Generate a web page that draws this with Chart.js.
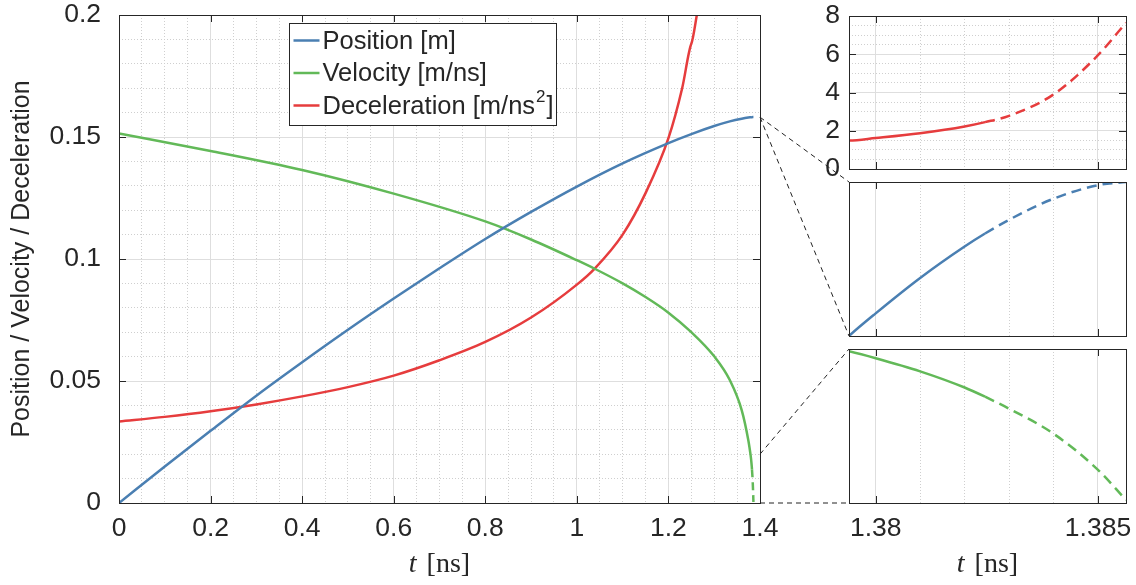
<!DOCTYPE html>
<html>
<head>
<meta charset="utf-8">
<script src="https://cdn.jsdelivr.net/npm/chart.js@4.4.1/dist/chart.umd.min.js"></script>
<style>
  body { margin: 0; background: #fff; }
  #wrap { position: relative; width: 1136px; height: 585px; }
  #wrap canvas { position: absolute; left: 0; top: 0; }
</style>
</head>
<body>
<div id="wrap">
  <canvas id="main" width="1136" height="585"></canvas>
  <canvas id="zoomDec" width="1136" height="585"></canvas>
  <canvas id="zoomPos" width="1136" height="585"></canvas>
  <canvas id="zoomVel" width="1136" height="585"></canvas>
</div>
<script>
// ---- data: time [ns] and value for each quantity
var posT = [0, 0.1, 0.2, 0.3, 0.4, 0.5, 0.6, 0.7, 0.8, 0.9, 1.0, 1.1, 1.2, 1.25, 1.3, 1.334, 1.36, 1.3744,
            1.3794, 1.38, 1.381, 1.382, 1.38246, 1.383, 1.384, 1.385, 1.38563];
var posY = [0, 0.0150, 0.0296, 0.0440, 0.0577, 0.0710, 0.0838, 0.0962, 0.1082, 0.1193, 0.1297, 0.1392, 0.1475, 0.1512, 0.1545, 0.1564, 0.1575, 0.15797,
            0.1580800, 0.1580915, 0.1581095, 0.1581255, 0.1581321, 0.1581391, 0.1581498, 0.1581567, 0.1581583];

var velT = [0, 0.2, 0.4, 0.6, 0.8, 0.9, 1.0, 1.04, 1.1, 1.15, 1.2, 1.25, 1.3, 1.334, 1.36, 1.3744,
            1.3794, 1.38, 1.381, 1.382, 1.38246, 1.383, 1.384, 1.385, 1.38563];
var velY = [0.1514, 0.1443, 0.1365, 0.1268, 0.1154, 0.1080, 0.0995, 0.0959, 0.0900, 0.0844, 0.0780, 0.0700, 0.0601, 0.0504, 0.0381, 0.0258,
            0.0197, 0.0188, 0.0171, 0.0150, 0.0138, 0.01225, 0.0090, 0.0043, 0.0004];

var decT = [0, 0.1, 0.2, 0.3, 0.4, 0.5, 0.6, 0.7, 0.8, 0.9, 1.0, 1.04, 1.1, 1.15, 1.2, 1.23, 1.25, 1.265,
            1.3794, 1.38, 1.381, 1.382, 1.38246, 1.383, 1.384, 1.385, 1.38563];
var decY = [0.0334, 0.0353, 0.0376, 0.0404, 0.0437, 0.0475, 0.0522, 0.0585, 0.0660, 0.0760, 0.0895, 0.0963, 0.1100, 0.1270, 0.1495, 0.1700, 0.1882, 0.2030,
            1.49, 1.62, 1.87, 2.22, 2.45, 2.78, 3.90, 5.95, 7.65];

var seriesNames = ['Position [m]', 'Velocity [m/ns]', 'Deceleration [m/ns\u00B2]'];
var seriesColors = ['#4a7fb2', '#62b958', '#e63c3d'];

var solidUntil = 1.38246;   // past this time the curves are dashed

// ---- axes
var mainXRange = [0, 1.4];
var mainYRange = [0, 0.2];
var mainXTicks = [0, 0.2, 0.4, 0.6, 0.8, 1, 1.2, 1.4];
var mainYTicks = [0, 0.05, 0.1, 0.15, 0.2];

var zoomXRange = [1.3794, 1.38563];
var zoomXTicks = [1.38, 1.385];
var decRange = [0, 8];
var decTicks = [0, 2, 4, 6, 8];
var posRange = [0.15808, 0.1581583];
var velRange = [0, 0.02];

var FONT = '"Liberation Sans", Arial, Helvetica, sans-serif';
var INK = '#262626';
var GRID = '#dedede';
var GRID_MINOR = '#cfcfcf';
var TICK_SIZE = 26.5;

Chart.defaults.font.family = FONT;
Chart.defaults.color = INK;

function fmt(v) { return String(+v.toFixed(4)); }

// minor grid positions between the labelled ticks
function minorSteps(lo, hi, step, skip) {
  var out = [];
  var n = Math.round((hi - lo) / step);
  for (var i = 0; i <= n; i++) {
    var v = +(lo + i * step).toFixed(6);
    if (skip.every(function (s) { return Math.abs(s - v) > 1e-9; })) out.push(v);
  }
  return out;
}

function pts(ts, ys) { return ts.map(function (t, i) { return {x: t, y: ys[i]}; }); }

function series(i, ts, ys, width, dash) {
  return {
    label: seriesNames[i],
    data: pts(ts, ys),
    borderColor: seriesColors[i],
    borderWidth: width,
    pointRadius: 0,
    cubicInterpolationMode: 'monotone',
    segment: {
      borderDash: function (ctx) { return ctx.p0.parsed.x >= solidUntil - 1e-9 ? dash : undefined; }
    }
  };
}

function scaleSet(o) {
  var s = {
    x: {
      type: 'linear', min: o.xr[0], max: o.xr[1],
      afterBuildTicks: function (sc) { sc.ticks = o.xTicks.map(function (v) { return {value: v}; }); },
      afterFit: function (sc) { sc.height = o.xH; sc.paddingLeft = 0; sc.paddingRight = 0; },
      ticks: { display: o.xLabels, autoSkip: false, maxRotation: 0, padding: 10, font: {size: TICK_SIZE}, color: INK,
               callback: function (v) { return fmt(v); } },
      grid: { color: GRID, lineWidth: 1, drawTicks: false },
      border: { display: false }
    },
    xMinor: {
      type: 'linear', position: 'bottom', min: o.xr[0], max: o.xr[1],
      afterBuildTicks: function (sc) { sc.ticks = o.xMinor.map(function (v) { return {value: v}; }); },
      afterFit: function (sc) { sc.height = 0; sc.paddingLeft = 0; sc.paddingRight = 0; },
      ticks: { display: false },
      grid: { color: GRID_MINOR, lineWidth: 1, drawTicks: false },
      border: { display: false, dash: [1, 2] }
    },
    y: {
      type: 'linear', min: o.yr[0], max: o.yr[1],
      afterBuildTicks: function (sc) { sc.ticks = o.yTicks.map(function (v) { return {value: v}; }); },
      afterFit: function (sc) { sc.width = o.yW; sc.paddingTop = 0; sc.paddingBottom = 0; },
      ticks: { display: o.yLabels, autoSkip: false, padding: o.yPad, font: {size: TICK_SIZE}, color: INK,
               callback: function (v) { return fmt(v); } },
      grid: { display: o.yGrid, color: GRID, lineWidth: 1, drawTicks: false },
      border: { display: false },
      title: o.yTitle ? { display: true, text: o.yTitle, font: {size: 25}, color: INK, padding: {top: 7, bottom: 0} } : { display: false }
    }
  };
  if (o.yGrid) {
    s.yMinor = {
      type: 'linear', position: 'left', min: o.yr[0], max: o.yr[1],
      afterBuildTicks: function (sc) { sc.ticks = o.yMinor.map(function (v) { return {value: v}; }); },
      afterFit: function (sc) { sc.width = 0; sc.paddingTop = 0; sc.paddingBottom = 0; },
      ticks: { display: false },
      grid: { color: GRID_MINOR, lineWidth: 1, drawTicks: false },
      border: { display: false, dash: [1, 2] }
    };
  }
  return s;
}

// box round the plot area plus inward tick marks on all four sides
var frame = {
  id: 'frame',
  afterDatasetsDraw: function (chart, args, o) {
    var ctx = chart.ctx, a = chart.chartArea, sx = chart.scales.x, sy = chart.scales.y;
    ctx.save();
    ctx.strokeStyle = INK;
    ctx.lineWidth = 1;
    ctx.beginPath();
    (o.xTicks || []).forEach(function (v) {
      var px = Math.round(sx.getPixelForValue(v)) + 0.5;
      ctx.moveTo(px, a.bottom); ctx.lineTo(px, a.bottom - 7);
      ctx.moveTo(px, a.top); ctx.lineTo(px, a.top + 7);
    });
    (o.yTicks || []).forEach(function (v) {
      var py = Math.round(sy.getPixelForValue(v)) + 0.5;
      ctx.moveTo(a.left, py); ctx.lineTo(a.left + 7, py);
      ctx.moveTo(a.right, py); ctx.lineTo(a.right - 7, py);
    });
    ctx.stroke();
    ctx.strokeRect(Math.round(a.left) + 0.5, Math.round(a.top) + 0.5,
                   Math.round(a.right - a.left), Math.round(a.bottom - a.top));
    ctx.restore();
  }
};

// "t [ns]" under the axis, italic t like the math font
var tTitle = {
  id: 'tTitle',
  afterDraw: function (chart, args, o) {
    if (!o.show) return;
    var ctx = chart.ctx, a = chart.chartArea;
    ctx.save();
    ctx.fillStyle = INK;
    ctx.textBaseline = 'alphabetic';
    var fi = 'italic 28px "Liberation Serif", "DejaVu Serif", serif';
    var fr = '28px "Liberation Serif", "DejaVu Serif", serif';
    ctx.font = fi; var w1 = ctx.measureText('t').width;
    ctx.font = fr; var w2 = ctx.measureText('[ns]').width;
    var gap = 10;
    var x0 = (a.left + a.right) / 2 - (w1 + gap + w2) / 2;
    var y = 572;
    ctx.font = fi; ctx.fillText('t', x0, y);
    ctx.font = fr; ctx.fillText('[ns]', x0 + w1 + gap, y);
    ctx.restore();
  }
};

// legend box inside the main axes; a "²" in a label is set as a raised 2
var keyBox = {
  id: 'keyBox',
  afterDraw: function (chart, args, o) {
    if (!o.show) return;
    var ctx = chart.ctx, a = chart.chartArea;
    var sets = chart.data.datasets;
    var big = '25.5px ' + FONT, small = '17px ' + FONT;
    function parts(label) {
      var i = label.indexOf('\u00B2');
      return i < 0 ? [label, '', ''] : [label.slice(0, i), '2', label.slice(i + 1)];
    }
    function width(label) {
      var p = parts(label);
      ctx.font = big; var w = ctx.measureText(p[0]).width + ctx.measureText(p[2]).width;
      ctx.font = small; return w + ctx.measureText(p[1]).width;
    }
    ctx.save();
    var tw = 0;
    sets.forEach(function (d) { tw = Math.max(tw, width(d.label)); });
    var x = Math.round(a.left + 170) + 0.5, y = Math.round(a.top + 8) + 0.5;
    var rowH = 32.5, bw = Math.round(34 + tw + 4), bh = 102;
    ctx.fillStyle = '#fff';
    ctx.fillRect(x, y, bw, bh);
    ctx.strokeStyle = INK; ctx.lineWidth = 1;
    ctx.strokeRect(x, y, bw, bh);
    ctx.textBaseline = 'middle';
    sets.forEach(function (d, i) {
      var cy = y + 17 + i * rowH;
      ctx.strokeStyle = d.borderColor; ctx.lineWidth = 2.5;
      ctx.beginPath(); ctx.moveTo(x + 4, cy); ctx.lineTo(x + 30, cy); ctx.stroke();
      ctx.fillStyle = INK;
      var p = parts(d.label), tx = x + 33;
      ctx.font = big; ctx.fillText(p[0], tx, cy + 1); tx += ctx.measureText(p[0]).width;
      ctx.font = small; ctx.fillText(p[1], tx + 1, cy - 8); tx += ctx.measureText(p[1]).width + 2;
      ctx.font = big; ctx.fillText(p[2], tx, cy + 1);
    });
    ctx.restore();
  }
};

// dashed leader lines from the main axes to the zoomed panels
var mainChart, posChart;
var zoomLinks = {
  id: 'zoomLinks',
  afterDraw: function (chart) {
    var ctx = chart.ctx;
    var mx = mainChart.scales.x.getPixelForValue(mainXRange[1]);
    var my = mainChart.scales.y;
    var pa = posChart.chartArea, va = chart.chartArea;
    var yPos = my.getPixelForValue((posRange[0] + posRange[1]) / 2);
    var links = [
      [mx, yPos, pa.left, pa.top],
      [mx, yPos, pa.left, pa.bottom],
      [mx, my.getPixelForValue(velRange[1]), va.left, va.top],
      [mx, my.getPixelForValue(velRange[0]), va.left, va.bottom]
    ];
    ctx.save();
    ctx.strokeStyle = '#222';
    ctx.lineWidth = 1;
    ctx.setLineDash([5, 4]);
    links.forEach(function (l) {
      ctx.beginPath(); ctx.moveTo(l[0], l[1]); ctx.lineTo(l[2], l[3]); ctx.stroke();
    });
    ctx.restore();
  }
};

function baseOptions(pad, scales, extra) {
  return {
    responsive: false,
    animation: false,
    layout: { padding: pad },
    scales: scales,
    plugins: Object.assign({ legend: { display: false }, tooltip: { enabled: false } }, extra)
  };
}

// ---- main plot
mainChart = new Chart(document.getElementById('main'), {
  type: 'line',
  data: { datasets: [
    series(0, posT, posY, 2.5, [8, 5]),
    series(1, velT, velY, 2.5, [8, 5]),
    series(2, decT, decY, 2.5, [8, 5])
  ] },
  options: baseOptions({left: 0, top: 15, right: 376, bottom: 0}, scaleSet({
    xr: mainXRange, yr: mainYRange, xTicks: mainXTicks, yTicks: mainYTicks,
    xMinor: minorSteps(0, 1.4, 0.05, mainXTicks), yMinor: minorSteps(0, 0.2, 0.01, mainYTicks),
    xH: 82, yW: 119, xLabels: true, yLabels: true, yPad: 18, yGrid: true,
    yTitle: 'Position / Velocity / Deceleration'
  }), { frame: { xTicks: mainXTicks, yTicks: mainYTicks }, tTitle: { show: true }, keyBox: { show: true } }),
  plugins: [frame, tTitle, keyBox]
});

// ---- zoom: deceleration
new Chart(document.getElementById('zoomDec'), {
  type: 'line',
  data: { datasets: [ series(2, decT, decY, 2.5, [10, 6]) ] },
  options: baseOptions({left: 800, top: 16, right: 10, bottom: 403}, scaleSet({
    xr: zoomXRange, yr: decRange, xTicks: zoomXTicks, yTicks: decTicks,
    xMinor: [1.381, 1.382, 1.383, 1.384], yMinor: minorSteps(0, 8, 0.5, decTicks),
    xH: 13, yW: 49, xLabels: false, yLabels: true, yPad: 9, yGrid: true
  }), { frame: { xTicks: zoomXTicks, yTicks: decTicks } }),
  plugins: [frame]
});

// ---- zoom: position
posChart = new Chart(document.getElementById('zoomPos'), {
  type: 'line',
  data: { datasets: [ series(0, posT, posY, 2.5, [10, 6]) ] },
  options: baseOptions({left: 800, top: 182, right: 10, bottom: 235}, scaleSet({
    xr: zoomXRange, yr: posRange, xTicks: zoomXTicks, yTicks: [],
    xMinor: [1.381, 1.382, 1.383, 1.384], yMinor: [],
    xH: 14, yW: 49, xLabels: false, yLabels: false, yPad: 10, yGrid: false
  }), { frame: { xTicks: zoomXTicks } }),
  plugins: [frame]
});

// ---- zoom: velocity
new Chart(document.getElementById('zoomVel'), {
  type: 'line',
  data: { datasets: [ series(1, velT, velY, 2.5, [10, 6]) ] },
  options: baseOptions({left: 800, top: 349, right: 10, bottom: 0}, scaleSet({
    xr: zoomXRange, yr: velRange, xTicks: zoomXTicks, yTicks: [],
    xMinor: [1.381, 1.382, 1.383, 1.384], yMinor: [],
    xH: 82, yW: 49, xLabels: true, yLabels: false, yPad: 10, yGrid: false
  }), { frame: { xTicks: zoomXTicks }, tTitle: { show: true } }),
  plugins: [frame, tTitle, zoomLinks]
});
</script>
</body>
</html>
